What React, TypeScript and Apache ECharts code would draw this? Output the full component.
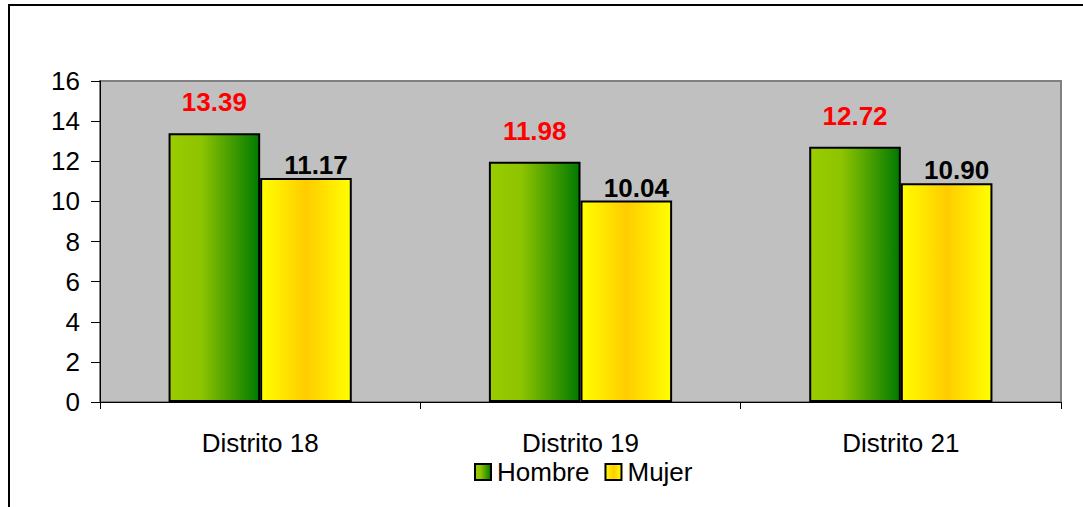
import React, { useEffect, useRef } from "react";
import * as echarts from "echarts";

const categories = ["Distrito 18", "Distrito 19", "Distrito 21"];
const hombre = [13.39, 11.98, 12.72];
const mujer = [11.17, 10.04, 10.9];
const yTicks = { min: 0, max: 16, interval: 2 };

const FONT = "'Liberation Sans', Arial, sans-serif";
const FS = 26;

export default function App() {
  const ref = useRef<HTMLDivElement>(null);
  useEffect(() => {
    if (!ref.current) return;
    const chart = echarts.init(ref.current, undefined, { renderer: "svg" });
    const green = new echarts.graphic.LinearGradient(0, 0, 1, 0, [
      { offset: 0, color: "#99CC00" },
      { offset: 0.35, color: "#8EC400" },
      { offset: 1, color: "#007A00" },
    ]);
    const yellow = new echarts.graphic.LinearGradient(0, 0, 1, 0, [
      { offset: 0, color: "#FFFF00" },
      { offset: 0.5, color: "#FFCC00" },
      { offset: 1, color: "#FFFF00" },
    ]);
    chart.setOption({
      animation: false,
      backgroundColor: "#FFFFFF",
      textStyle: { fontFamily: FONT },
      graphic: [
        {
          type: "rect",
          shape: { x: 9, y: 5, width: 1200, height: 700 },
          style: { fill: "none", stroke: "#000000", lineWidth: 2 },
          silent: true,
          z: -1,
        },
      ],
      grid: {
        left: 100,
        top: 81,
        right: 22,
        bottom: 105,
        show: true,
        backgroundColor: "#C0C0C0",
        borderColor: "#808080",
        borderWidth: 2,
      },
      legend: {
        left: 474,
        top: 459,
        padding: 0,
        itemWidth: 16,
        itemHeight: 16,
        itemGap: 15,
        icon: "rect",
        textStyle: { fontFamily: FONT, fontSize: FS, color: "#000", padding: [0, 0, 0, 1] },
        data: ["Hombre", "Mujer"],
      },
      xAxis: {
        type: "category",
        data: categories,
        axisLine: { show: true, lineStyle: { color: "#000", width: 1 } },
        axisTick: { show: true, length: 7, alignWithLabel: false, lineStyle: { color: "#000" } },
        axisLabel: { fontFamily: FONT, fontSize: FS, color: "#000", margin: 28 },
        splitLine: { show: false },
      },
      yAxis: {
        type: "value",
        min: yTicks.min,
        max: yTicks.max,
        interval: yTicks.interval,
        axisLine: { show: true, lineStyle: { color: "#000", width: 1 } },
        axisTick: { show: true, length: 9, lineStyle: { color: "#000" } },
        axisLabel: { fontFamily: FONT, fontSize: FS, color: "#000", margin: 20 },
        splitLine: { show: false },
      },
      series: [
        {
          name: "Hombre",
          type: "bar",
          data: hombre,
          barGap: "0%",
          barCategoryGap: "42.8%",
          itemStyle: { color: green, borderColor: "#000", borderWidth: 2 },
          label: {
            show: true,
            position: "top",
            distance: 18,
            color: "#FF0000",
            fontWeight: "bold",
            fontSize: FS,
            fontFamily: FONT,
            formatter: (p: any) => Number(p.value).toFixed(2),
          },
        },
        {
          name: "Mujer",
          type: "bar",
          data: mujer,
          barGap: "0%",
          barCategoryGap: "42.8%",
          itemStyle: { color: yellow, borderColor: "#000", borderWidth: 2 },
          label: {
            show: true,
            position: "top",
            distance: 0,
            offset: [10, 0],
            color: "#000000",
            fontWeight: "bold",
            fontSize: FS,
            fontFamily: FONT,
            formatter: (p: any) => Number(p.value).toFixed(2),
          },
        },
      ],
    });
    return () => chart.dispose();
  }, []);
  return (
    <div
      ref={ref}
      style={{ position: "fixed", left: 0, top: 0, width: 1083, height: 507 }}
    />
  );
}
